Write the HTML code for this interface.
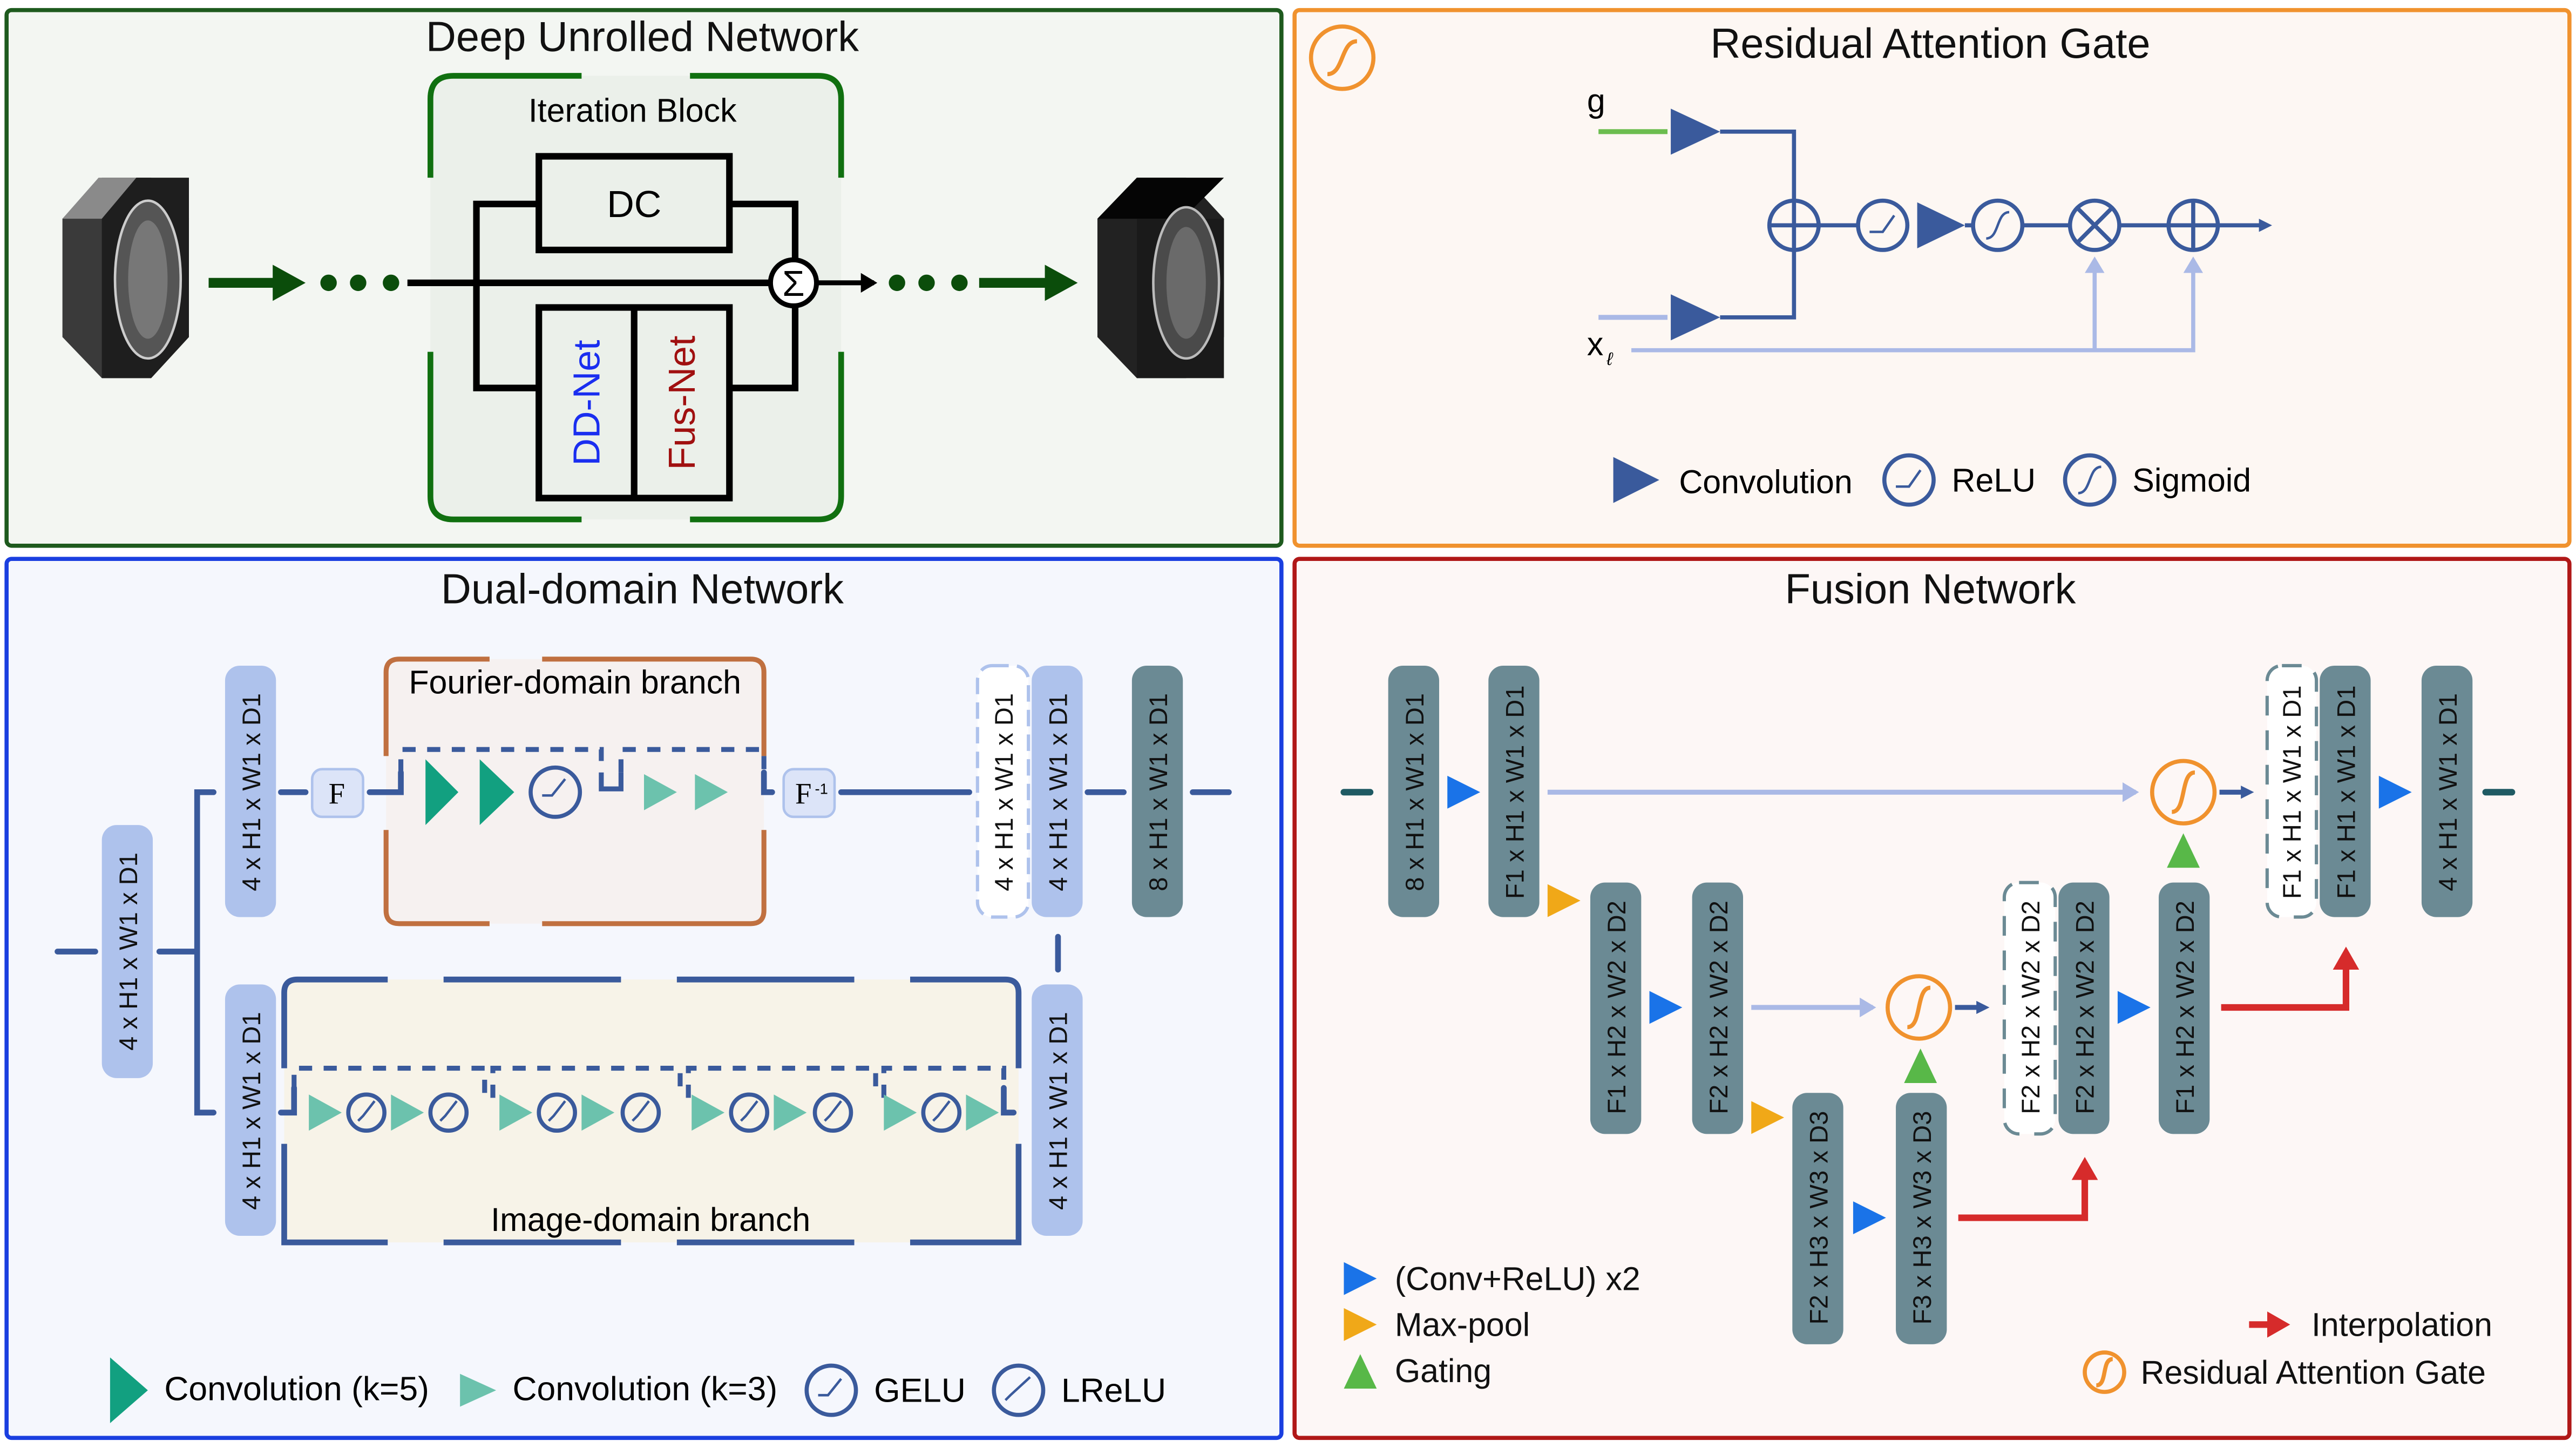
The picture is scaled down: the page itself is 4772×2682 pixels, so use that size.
<!DOCTYPE html>
<html><head><meta charset="utf-8"><style>html,body{margin:0;padding:0;background:#fff}svg{display:block}</style></head><body>
<svg xmlns="http://www.w3.org/2000/svg" width="4772" height="2682" viewBox="0 0 1568 881" font-family="Liberation Sans, sans-serif">
<defs>
<marker id="ab" markerWidth="8" markerHeight="8" refX="5" refY="4" orient="auto" markerUnits="userSpaceOnUse"><path d="M0,0 L8,4 L0,8z" fill="#3a5a9c"/></marker>
<marker id="al" markerWidth="10" markerHeight="12" refX="8" refY="6" orient="auto" markerUnits="userSpaceOnUse"><path d="M0,0 L10,6 L0,12z" fill="#aab9e6"/></marker>
<marker id="ar" markerWidth="14" markerHeight="16" refX="10" refY="8" orient="auto" markerUnits="userSpaceOnUse"><path d="M0,0 L14,8 L0,16z" fill="#d62b2b"/></marker>
<marker id="ak" markerWidth="10" markerHeight="12" refX="8" refY="6" orient="auto" markerUnits="userSpaceOnUse"><path d="M0,0 L10,6 L0,12z" fill="#000"/></marker>
</defs>
<rect width="1568" height="881" fill="#fff"/>
<rect x="4" y="6" width="776" height="326" rx="3" fill="#f3f6f2" stroke="#1e5a1e" stroke-width="2.5"/>
<rect x="788" y="6" width="776" height="326" rx="3" fill="#fdf7f3" stroke="#f0922e" stroke-width="2.5"/>
<rect x="4" y="340" width="776" height="535" rx="3" fill="#f5f7fd" stroke="#1a3fe0" stroke-width="2.5"/>
<rect x="788" y="340" width="776" height="535" rx="3" fill="#fdf7f6" stroke="#b01818" stroke-width="2.5"/>
<g font-size="25.5" text-anchor="middle" fill="#111">
<text x="391" y="31">Deep Unrolled Network</text>
<text x="1175" y="35">Residual Attention Gate</text>
<text x="391" y="367">Dual-domain Network</text>
<text x="1175" y="367">Fusion Network</text>
</g>

<!-- ===== TL ===== -->
<rect x="262" y="46" width="250" height="270" rx="14" fill="#ebf0ea"/>
<g fill="none" stroke="#107010" stroke-width="3.5">
<path d="M262,108 V60 Q262,46 276,46 H354"/><path d="M420,46 H498 Q512,46 512,60 V108"/>
<path d="M262,214 V302 Q262,316 276,316 H354"/><path d="M420,316 H498 Q512,316 512,302 V214"/>
</g>
<text x="385" y="74" font-size="20" text-anchor="middle">Iteration Block</text>
<g fill="none" stroke="#000" stroke-width="4">
<rect x="328" y="95" width="116" height="57"/>
<rect x="328" y="187" width="116" height="116"/><line x1="386" y1="187" x2="386" y2="303"/>
<path d="M328,124 H290 V236 H328"/><path d="M444,124 H484 V158"/><path d="M444,236 H484 V186"/>
<line x1="248" y1="172" x2="469" y2="172"/>
</g>
<circle cx="483" cy="172" r="14" fill="#fff" stroke="#000" stroke-width="3"/>
<text x="483" y="180" font-size="22" text-anchor="middle">Σ</text>
<line x1="497" y1="172" x2="532" y2="172" stroke="#000" stroke-width="3" marker-end="url(#ak)"/>
<text x="386" y="132" font-size="23" text-anchor="middle">DC</text>
<text transform="translate(357,245) rotate(-90)" font-size="23" text-anchor="middle" dominant-baseline="central" fill="#1a2ef0">DD-Net</text>
<text transform="translate(415,245) rotate(-90)" font-size="23" text-anchor="middle" dominant-baseline="central" fill="#a01010">Fus-Net</text>
<g fill="#0b4d0b"><circle cx="200" cy="172" r="5"/><circle cx="218" cy="172" r="5"/><circle cx="238" cy="172" r="5"/>
<circle cx="546" cy="172" r="5"/><circle cx="564" cy="172" r="5"/><circle cx="584" cy="172" r="5"/>
<path d="M127,169 H166 V161 L186,172 L166,183 V175 H127z"/><path d="M596,169 H636 V161 L656,172 L636,183 V175 H596z"/></g>
<g><polygon points="38,133 62,108 92,108 115,133 115,205 92,230 62,230 38,205" fill="#3a3a3a"/>
<polygon points="38,133 60,108 83,108 62,133" fill="#8a8a8a"/><polygon points="62,133 83,108 115,108 115,205 92,230 62,230" fill="#1e1e1e"/>
<ellipse cx="90" cy="170" rx="20" ry="48" fill="#555" stroke="#ccc" stroke-width="1.5"/><ellipse cx="90" cy="170" rx="12" ry="36" fill="#777"/></g>
<g><polygon points="668,133 692,108 722,108 745,133 745,205 722,230 692,230 668,205" fill="#222"/>
<polygon points="668,133 692,108 745,108 720,133" fill="#050505"/><rect x="692" y="133" width="53" height="97" fill="#1a1a1a"/>
<ellipse cx="722" cy="172" rx="20" ry="46" fill="#4a4a4a" stroke="#bbb" stroke-width="1.5"/><ellipse cx="722" cy="172" rx="12" ry="34" fill="#6a6a6a"/></g>

<!-- ===== TR ===== -->
<circle cx="817" cy="35" r="19" fill="none" stroke="#f0922e" stroke-width="2.5"/>
<path d="M808,45 C818,45 816,25 826,25" fill="none" stroke="#f0922e" stroke-width="2.5"/>
<text x="966" y="68" font-size="20">g</text>
<text x="966" y="216" font-size="20">x</text><text x="978" y="222" font-size="11" font-style="italic">ℓ</text>
<line x1="973" y1="80" x2="1015" y2="80" stroke="#6cbd4f" stroke-width="3"/>
<line x1="973" y1="193" x2="1015" y2="193" stroke="#aab9e6" stroke-width="3"/>
<g fill="#3a5a9c"><path d="M1017,66 L1047,80 L1017,94z"/><path d="M1017,179 L1047,193 L1017,207z"/><path d="M1167,123 L1196,137 L1167,151z"/></g>
<g fill="none" stroke="#3a5a9c" stroke-width="2.5">
<path d="M1047,80 H1092 V122"/><path d="M1047,193 H1092 V152"/>
<line x1="1107" y1="137" x2="1131" y2="137"/><line x1="1196" y1="137" x2="1201" y2="137"/><line x1="1231" y1="137" x2="1260" y2="137"/><line x1="1290" y1="137" x2="1320" y2="137"/>
<line x1="1350" y1="137" x2="1380" y2="137" marker-end="url(#ab)"/>
<circle cx="1092" cy="137" r="15"/><line x1="1077" y1="137" x2="1107" y2="137"/><line x1="1092" y1="122" x2="1092" y2="152"/>
<circle cx="1146" cy="137" r="15"/><path d="M1138,141 H1146 L1153,131" stroke-width="1.5"/>
<circle cx="1216" cy="137" r="15"/><path d="M1209,145 C1217,145 1215,129 1223,129" stroke-width="1.5"/>
<circle cx="1275" cy="137" r="15"/><path d="M1264,126 L1286,148 M1286,126 L1264,148"/>
<circle cx="1335" cy="137" r="15"/><line x1="1320" y1="137" x2="1350" y2="137"/><line x1="1335" y1="122" x2="1335" y2="152"/>
</g>
<g fill="none" stroke="#aab9e6" stroke-width="2.5">
<path d="M993,213 H1335 V158" marker-end="url(#al)"/><path d="M1275,213 V158" marker-end="url(#al)"/>
</g>
<path d="M982,278 L1010,292 L982,306z" fill="#3a5a9c"/>
<text x="1022" y="300" font-size="20">Convolution</text>
<g fill="none" stroke="#3a5a9c" stroke-width="2.5"><circle cx="1162" cy="292" r="15"/><path d="M1154,296 H1162 L1169,286" stroke-width="1.5"/>
<circle cx="1272" cy="292" r="15"/><path d="M1265,300 C1273,300 1271,284 1279,284" stroke-width="1.5"/></g>
<text x="1188" y="299" font-size="20">ReLU</text><text x="1298" y="299" font-size="20">Sigmoid</text>

<!-- ===== BL ===== -->
<g fill="#aec2ec">
<rect x="62" y="502" width="31" height="154" rx="9"/>
<rect x="137" y="405" width="31" height="153" rx="9"/>
<rect x="137" y="599" width="31" height="153" rx="9"/>
<rect x="628" y="405" width="31" height="153" rx="9"/>
<rect x="628" y="599" width="31" height="153" rx="9"/>
</g>
<rect x="595" y="405" width="31" height="153" rx="9" fill="#fff" stroke="#aec2ec" stroke-width="2" stroke-dasharray="10,5"/>
<rect x="689" y="405" width="31" height="153" rx="9" fill="#6b8a94"/>
<g font-size="15.5" text-anchor="middle" dominant-baseline="central" fill="#111">
<text transform="translate(78,579) rotate(-90)">4 x H1 x W1 x D1</text>
<text transform="translate(153,482) rotate(-90)">4 x H1 x W1 x D1</text>
<text transform="translate(153,676) rotate(-90)">4 x H1 x W1 x D1</text>
<text transform="translate(611,482) rotate(-90)">4 x H1 x W1 x D1</text>
<text transform="translate(644,482) rotate(-90)">4 x H1 x W1 x D1</text>
<text transform="translate(644,676) rotate(-90)">4 x H1 x W1 x D1</text>
<text transform="translate(705,482) rotate(-90)">8 x H1 x W1 x D1</text>
</g>
<rect x="235" y="401" width="230" height="161" rx="8" fill="#f6f1f0"/>
<g fill="none" stroke="#c07040" stroke-width="3">
<path d="M235,460 V409 Q235,401 243,401 H298"/><path d="M330,401 H457 Q465,401 465,409 V460"/>
<path d="M235,505 V554 Q235,562 243,562 H298"/><path d="M330,562 H457 Q465,562 465,554 V505"/>
</g>
<text x="350" y="422" font-size="20" text-anchor="middle">Fourier-domain branch</text>
<rect x="173" y="596" width="447" height="160" rx="8" fill="#f7f3e8"/>
<g fill="none" stroke="#3a5a9c" stroke-width="3.5">
<path d="M173,650 V604 Q173,596 181,596 H236"/><path d="M270,596 H378"/><path d="M412,596 H520"/><path d="M554,596 H612 Q620,596 620,604 V650"/>
<path d="M173,696 V756 H236"/><path d="M270,756 H378"/><path d="M412,756 H520"/><path d="M554,756 H620 V696"/>
</g>
<text x="396" y="749" font-size="20" text-anchor="middle">Image-domain branch</text>
<g fill="none" stroke="#3a5a9c" stroke-width="3.5" stroke-linecap="round">
<path d="M35,579 H58"/><path d="M97,579 H120"/><path d="M130,482 H120 V677 H130"/>
<path d="M171,482 H186"/><path d="M225,482 H244 V470"/><path d="M465,470 V482 H470"/><path d="M512,482 H590"/>
<path d="M662,482 H684"/><path d="M726,482 H748"/><path d="M644,570 V590"/>
<path d="M171,677 H179 V662"/><path d="M611,662 V677 H617"/>
</g>
<g fill="none" stroke="#3a5a9c" stroke-width="3" stroke-dasharray="8,7">
<path d="M244,470 V456 H366 V470 M378,470 V456 H465 V470"/>
<path d="M179,662 V650 H295 V668 M300,668 V650 H414 V668 M419,668 V650 H533 V668 M538,668 V650 H611 V662"/>
</g>
<path d="M366,470 V480 H378 V470" fill="none" stroke="#3a5a9c" stroke-width="3"/>
<rect x="190" y="468" width="31" height="29" rx="6" fill="#dce4f8" stroke="#aec2ec" stroke-width="1.5"/>
<text x="205" y="489" font-size="18" text-anchor="middle" font-family="Liberation Serif, serif">F</text>
<rect x="477" y="468" width="31" height="29" rx="6" fill="#dce4f8" stroke="#aec2ec" stroke-width="1.5"/>
<text x="489" y="489" font-size="18" text-anchor="middle" font-family="Liberation Serif, serif">F</text><text x="500" y="483" font-size="9" text-anchor="middle">-1</text>
<g fill="#12a080"><path d="M259,462 L279,482 L259,502z"/><path d="M292,462 L313,482 L292,502z"/></g>
<g fill="#6cc2ad"><path d="M392,471 L412,482 L392,493z"/><path d="M423,471 L443,482 L423,493z"/></g>
<g fill="none" stroke="#3a5a9c" stroke-width="2.5"><circle cx="338" cy="482" r="15"/><path d="M330,484 H336 L344,474" stroke-width="1.5"/></g>
<g fill="#6cc2ad">
<path d="M188,666 L208,677 L188,688z"/><path d="M238,666 L258,677 L238,688z"/>
<path d="M304,666 L324,677 L304,688z"/><path d="M354,666 L374,677 L354,688z"/>
<path d="M421,666 L441,677 L421,688z"/><path d="M471,666 L491,677 L471,688z"/>
<path d="M538,666 L558,677 L538,688z"/><path d="M588,666 L608,677 L588,688z"/>
</g>
<g fill="none" stroke="#3a5a9c" stroke-width="2.5">
<circle cx="223" cy="677" r="11"/><circle cx="273" cy="677" r="11"/><circle cx="339" cy="677" r="11"/><circle cx="390" cy="677" r="11"/>
<circle cx="456" cy="677" r="11"/><circle cx="507" cy="677" r="11"/><circle cx="573" cy="677" r="11"/>
<g stroke-width="1.5"><path d="M218,682 L221,679 L228,670"/><path d="M268,682 L271,679 L278,670"/><path d="M334,682 L337,679 L344,670"/><path d="M385,682 L388,679 L395,670"/><path d="M451,682 L454,679 L461,670"/><path d="M502,682 L505,679 L512,670"/><path d="M568,682 L571,679 L578,670"/></g>
</g>
<path d="M67,826 L90,846 L67,866z" fill="#12a080"/>
<text x="100" y="852" font-size="20.5">Convolution (k=5)</text>
<path d="M280,836 L302,846 L280,856z" fill="#6cc2ad"/>
<text x="312" y="852" font-size="20.5">Convolution (k=3)</text>
<g fill="none" stroke="#3a5a9c" stroke-width="2.5"><circle cx="506" cy="846" r="15"/><path d="M498,849 H504 L512,839" stroke-width="1.5"/>
<circle cx="620" cy="846" r="15"/><path d="M612,852 L615,849 L627,838" stroke-width="1.5"/></g>
<text x="532" y="853" font-size="20.5">GELU</text><text x="646" y="853" font-size="20.5">LReLU</text>

<!-- ===== BR ===== -->
<g fill="none" stroke-width="3">
<path d="M942,482 H1300" stroke="#aab9e6" marker-end="url(#al)"/>
<path d="M1066,613 H1140" stroke="#aab9e6" marker-end="url(#al)"/>
</g>
<g fill="#6b8a94">
<rect x="845" y="405" width="31" height="153" rx="9"/><rect x="906" y="405" width="31" height="153" rx="9"/>
<rect x="968" y="537" width="31" height="153" rx="9"/><rect x="1030" y="537" width="31" height="153" rx="9"/>
<rect x="1091" y="665" width="31" height="153" rx="9"/><rect x="1154" y="665" width="31" height="153" rx="9"/>
<rect x="1253" y="537" width="31" height="153" rx="9"/><rect x="1314" y="537" width="31" height="153" rx="9"/>
<rect x="1412" y="405" width="31" height="153" rx="9"/><rect x="1474" y="405" width="31" height="153" rx="9"/>
</g>
<rect x="1220" y="537" width="31" height="153" rx="9" fill="#fff" stroke="#6b8a94" stroke-width="2" stroke-dasharray="12,9"/>
<rect x="1380" y="405" width="30" height="153" rx="9" fill="#fff" stroke="#6b8a94" stroke-width="2" stroke-dasharray="12,9"/>
<g font-size="15.5" text-anchor="middle" dominant-baseline="central" fill="#111">
<text transform="translate(861,482) rotate(-90)">8 x H1 x W1 x D1</text>
<text transform="translate(922,482) rotate(-90)">F1 x H1 x W1 x D1</text>
<text transform="translate(984,613) rotate(-90)">F1 x H2 x W2 x D2</text>
<text transform="translate(1046,613) rotate(-90)">F2 x H2 x W2 x D2</text>
<text transform="translate(1107,741) rotate(-90)">F2 x H3 x W3 x D3</text>
<text transform="translate(1170,741) rotate(-90)">F3 x H3 x W3 x D3</text>
<text transform="translate(1236,613) rotate(-90)">F2 x H2 x W2 x D2</text>
<text transform="translate(1269,613) rotate(-90)">F2 x H2 x W2 x D2</text>
<text transform="translate(1330,613) rotate(-90)">F1 x H2 x W2 x D2</text>
<text transform="translate(1395,482) rotate(-90)">F1 x H1 x W1 x D1</text>
<text transform="translate(1428,482) rotate(-90)">F1 x H1 x W1 x D1</text>
<text transform="translate(1490,482) rotate(-90)">4 x H1 x W1 x D1</text>
</g>
<g stroke="#1f5a63" stroke-width="4" stroke-linecap="round"><line x1="818" y1="482" x2="834" y2="482"/><line x1="1513" y1="482" x2="1529" y2="482"/></g>
<g fill="#1a73e8">
<path d="M881,472 L901,482 L881,492z"/><path d="M1004,603 L1024,613 L1004,623z"/><path d="M1128,731 L1148,741 L1128,751z"/>
<path d="M1289,603 L1309,613 L1289,623z"/><path d="M1448,472 L1468,482 L1448,492z"/>
<path d="M818,768 L838,778 L818,788z"/>
</g>
<g fill="#f0a818"><path d="M942,538 L962,548 L942,558z"/><path d="M1066,670 L1086,680 L1066,690z"/><path d="M818,796 L838,806 L818,816z"/></g>
<g fill="#58b848"><path d="M1159,659 L1169,638 L1179,659z"/><path d="M1319,528 L1329,507 L1339,528z"/><path d="M818,845 L828,824 L838,845z"/></g>
<g fill="none" stroke="#f0922e" stroke-width="2.5">
<circle cx="1168" cy="613" r="19"/><path d="M1161,625 C1170,625 1166,601 1175,601"/>
<circle cx="1329" cy="482" r="19"/><path d="M1322,494 C1331,494 1327,470 1336,470"/>
<circle cx="1281" cy="835" r="12"/><path d="M1276,843 C1283,843 1279,827 1286,827"/>
</g>
<g stroke="#3a5a9c" stroke-width="3"><line x1="1190" y1="613" x2="1208" y2="613" marker-end="url(#ab)"/><line x1="1351" y1="482" x2="1369" y2="482" marker-end="url(#ab)"/></g>
<g fill="none" stroke="#d62b2b" stroke-width="4">
<path d="M1192,741 H1269 V708" marker-end="url(#ar)"/>
<path d="M1352,613 H1428 V580" marker-end="url(#ar)"/>
<line x1="1369" y1="806" x2="1390" y2="806" marker-end="url(#ar)"/>
</g>
<g font-size="20" fill="#111">
<text x="849" y="785">(Conv+ReLU) x2</text><text x="849" y="813">Max-pool</text><text x="849" y="841">Gating</text>
<text x="1407" y="813">Interpolation</text><text x="1303" y="842">Residual Attention Gate</text>
</g>
</svg>
</body></html>
